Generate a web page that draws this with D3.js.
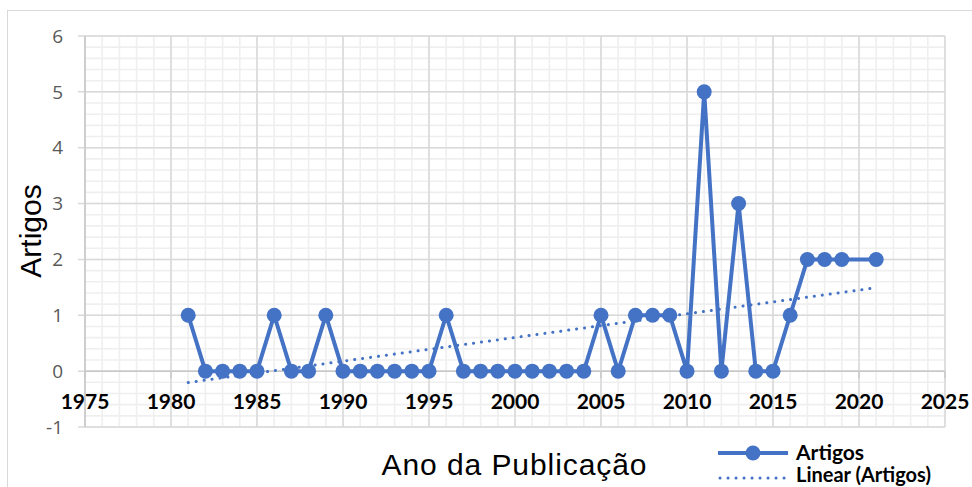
<!DOCTYPE html>
<html><head><meta charset="utf-8">
<script src="https://cdn.jsdelivr.net/npm/d3@7"></script>
<style>body{margin:0;background:#fff}svg{display:block}</style>
</head><body>
<svg id="c" width="972" height="487"></svg>
<script>
const years = [1981,1982,1983,1984,1985,1986,1987,1988,1989,1990,1991,1992,1993,1994,1995,1996,1997,1998,1999,2000,2001,2002,2003,2004,2005,2006,2007,2008,2009,2010,2011,2012,2013,2014,2015,2016,2017,2018,2019,2021];
const artigos = [1,0,0,0,0,1,0,0,1,0,0,0,0,0,0,1,0,0,0,0,0,0,0,0,1,0,1,1,1,0,5,0,3,0,0,1,2,2,2,2];
const xTicks = [1975,1980,1985,1990,1995,2000,2005,2010,2015,2020,2025];
const yTicks = [-1,0,1,2,3,4,5,6];
const seriesName = "Artigos";
const trendName = "Linear (Artigos)";
const xTitle = "Ano da Publicação";
const yTitle = "Artigos";

const blue = "#4472C4";
const svg = d3.select("#c");
const x = d3.scaleLinear().domain([1975,2025]).range([85,945]);
const y = d3.scaleLinear().domain([-1,6]).range([427,36]);

// outer frame
svg.append("rect").attr("x",7.5).attr("y",10.5).attr("width",980).attr("height",500)
  .attr("fill","none").attr("stroke","#d9d9d9");

// minor gridlines
const g = svg.append("g");
d3.range(1975,2026,1).forEach(v=>{
  g.append("line").attr("x1",x(v)).attr("x2",x(v)).attr("y1",y(6)).attr("y2",y(-1))
   .attr("stroke","#efefef").attr("stroke-width",1.6);
});
d3.range(-1,6.001,0.2).forEach(v=>{
  g.append("line").attr("x1",x(1975)).attr("x2",x(2025)).attr("y1",y(v)).attr("y2",y(v))
   .attr("stroke","#efefef").attr("stroke-width",1.6);
});
// major gridlines
xTicks.forEach(v=>{
  g.append("line").attr("x1",x(v)).attr("x2",x(v)).attr("y1",y(6)).attr("y2",y(-1))
   .attr("stroke","#d9d9d9").attr("stroke-width",1.5);
});
yTicks.forEach(v=>{
  g.append("line").attr("x1",x(1975)-7).attr("x2",x(2025)).attr("y1",y(v)).attr("y2",y(v))
   .attr("stroke","#d9d9d9").attr("stroke-width",1.5);
});
// x axis at 0 with ticks
g.append("line").attr("x1",x(1975)).attr("x2",x(2025)).attr("y1",y(0)).attr("y2",y(0))
  .attr("stroke","#c8c8c8").attr("stroke-width",1.5);
xTicks.forEach(v=>{
  g.append("line").attr("x1",x(v)).attr("x2",x(v)).attr("y1",y(0)).attr("y2",y(0)+7)
   .attr("stroke","#c8c8c8").attr("stroke-width",1.5);
});
g.append("line").attr("x1",x(1975)).attr("x2",x(1975)).attr("y1",y(6)).attr("y2",y(-1))
  .attr("stroke","#c8c8c8").attr("stroke-width",1.5);

// y tick labels
svg.append("g").selectAll("text").data(yTicks).join("text")
  .attr("x",63).attr("y",d=>y(d)).attr("dy","0.35em").attr("text-anchor","end")
  .attr("font-family","Open Sans, sans-serif").attr("font-size",19).attr("fill","#595959")
  .text(d=>d);
// x tick labels
svg.append("g").selectAll("text").data(xTicks).join("text")
  .attr("x",d=>x(d)).attr("y",y(0)+38).attr("text-anchor","middle")
  .attr("font-family","Lato, sans-serif").attr("font-weight","bold").attr("font-size",21).attr("fill","#000")
  .text(d=>d);

// trend line (least squares on the data)
const mx = d3.mean(years), my = d3.mean(artigos);
const slope = d3.sum(years,(v,i)=>(v-mx)*(artigos[i]-my))/d3.sum(years,v=>(v-mx)*(v-mx));
const tr = v=>my+slope*(v-mx);
const x0 = years[0], x1 = years[years.length-1];
svg.append("line").attr("x1",x(x0)).attr("y1",y(tr(x0))).attr("x2",x(x1)).attr("y2",y(tr(x1)))
  .attr("stroke",blue).attr("stroke-width",3).attr("stroke-dasharray","0.1,7.9").attr("stroke-linecap","round");

// series
const pts = years.map((v,i)=>[v,artigos[i]]);
svg.append("path").datum(pts).attr("fill","none").attr("stroke",blue).attr("stroke-width",4)
  .attr("stroke-linejoin","round")
  .attr("d",d3.line().x(d=>x(d[0])).y(d=>y(d[1])));
svg.append("g").selectAll("circle").data(pts).join("circle")
  .attr("cx",d=>x(d[0])).attr("cy",d=>y(d[1])).attr("r",7.5).attr("fill",blue);

// axis titles
svg.append("text").attr("x",514).attr("y",475).attr("text-anchor","middle")
  .attr("font-family","Liberation Sans, Arial, sans-serif").attr("font-size",30)
  .attr("textLength",265).attr("fill","#000").text(xTitle);
svg.append("text").attr("transform","translate(41,231) rotate(-90)").attr("text-anchor","middle")
  .attr("font-family","Liberation Sans, Arial, sans-serif").attr("font-size",30)
  .attr("fill","#000").text(yTitle);

// legend
const lg = svg.append("g");
lg.append("line").attr("x1",718).attr("x2",788).attr("y1",453).attr("y2",453)
  .attr("stroke",blue).attr("stroke-width",4);
lg.append("circle").attr("cx",753).attr("cy",453).attr("r",7.5).attr("fill",blue);
lg.append("text").attr("x",796).attr("y",460).attr("font-family","Lato, sans-serif")
  .attr("font-weight","bold").attr("font-size",21).attr("fill","#000").text(seriesName);
lg.append("line").attr("x1",720).attr("x2",788).attr("y1",478).attr("y2",478)
  .attr("stroke",blue).attr("stroke-width",3).attr("stroke-dasharray","0.1,7.9").attr("stroke-linecap","round");
lg.append("text").attr("x",796).attr("y",482).attr("font-family","Lato, sans-serif")
  .attr("font-weight","bold").attr("font-size",20).attr("fill","#000").text(trendName);
</script>
</body></html>
